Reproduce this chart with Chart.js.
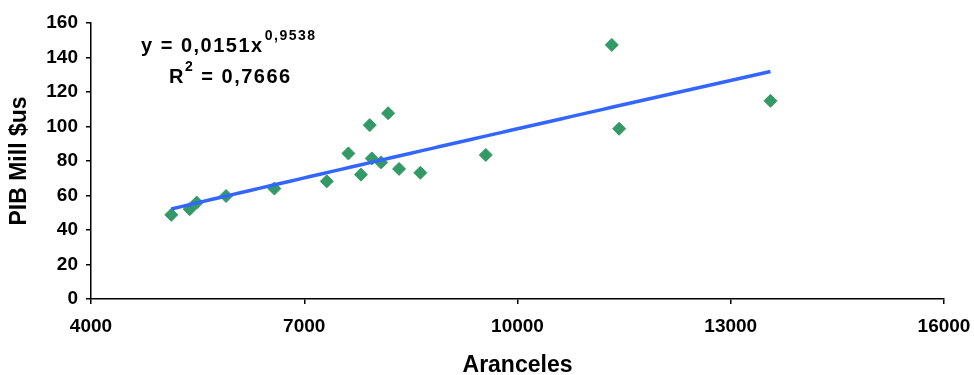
<!DOCTYPE html>
<html>
<head>
<meta charset="utf-8">
<title>PIB vs Aranceles</title>
<script src="https://cdn.jsdelivr.net/npm/chart.js@4/dist/chart.umd.min.js"></script>
<style>
  html, body { margin: 0; padding: 0; background: #fff; }
  #wrap { width: 974px; height: 375px; }
</style>
</head>
<body>
<div id="wrap"><canvas id="pibChart"></canvas></div>
<script>
// Aranceles (x) vs PIB Mill $us (y)
const aranceles = [5130, 5389, 5487, 5900, 6580, 7317, 7621, 7798, 7922, 7950, 8081, 8180, 8334, 8634, 9554, 11327, 11430, 13559];
const pib = [48.8, 52.1, 55.9, 59.7, 64.0, 68.2, 84.4, 72.1, 100.8, 81.5, 79.2, 107.7, 75.4, 73.2, 83.5, 147.3, 98.7, 114.9];

// potential trendline y = a * x^b, R^2
const trendA = 0.0151;
const trendB = 0.9538;
const trendR2 = 0.7666;

const xTicks = [4000, 7000, 10000, 13000, 16000];
const yTicks = [0, 20, 40, 60, 80, 100, 120, 140, 160];

const fontFamily = "'Liberation Sans', Arial, sans-serif";

// trendline sampled across the data range
const xMin = Math.min(...aranceles);
const xMax = Math.max(...aranceles);
const trendPoints = [];
for (let i = 0; i <= 60; i++) {
  const x = xMin + (xMax - xMin) * i / 60;
  trendPoints.push({ x: x, y: trendA * Math.pow(x, trendB) });
}

const fmt = (v) => v.toString().replace(".", ",");

// equation + R^2 text box
const equationLabel = {
  id: "equationLabel",
  afterDraw(chart) {
    const ctx = chart.ctx;
    ctx.save();
    ctx.fillStyle = "#000";
    ctx.textBaseline = "alphabetic";
    ctx.textAlign = "left";
    ctx.letterSpacing = "1.5px";

    ctx.font = "bold 20px " + fontFamily;
    let x = 141;
    const line1 = "y = " + fmt(trendA) + "x";
    ctx.fillText(line1, x, 52);
    x += ctx.measureText(line1).width;
    ctx.font = "bold 14px " + fontFamily;
    ctx.fillText(fmt(trendB), x + 1, 40);

    ctx.font = "bold 20px " + fontFamily;
    x = 169;
    ctx.fillText("R", x, 83);
    x += ctx.measureText("R").width;
    ctx.font = "bold 14px " + fontFamily;
    ctx.fillText("2", x, 71);
    x += ctx.measureText("2").width;
    ctx.font = "bold 20px " + fontFamily;
    ctx.fillText(" = " + fmt(trendR2), x, 83);
    ctx.restore();
  }
};

const ctx = document.getElementById("pibChart").getContext("2d");
new Chart(ctx, {
  type: "scatter",
  data: {
    datasets: [
      {
        label: "PIB",
        data: aranceles.map((x, i) => ({ x: x, y: pib[i] })),
        pointStyle: "rectRot",
        pointRadius: 6.5,
        pointHoverRadius: 6.5,
        backgroundColor: "#339966",
        borderColor: "#339966",
        borderWidth: 1,
        order: 1
      },
      {
        label: "Potencial",
        data: trendPoints,
        showLine: true,
        pointRadius: 0,
        borderColor: "#3366FF",
        borderWidth: 3.5,
        fill: false,
        order: 0
      }
    ]
  },
  options: {
    responsive: true,
    maintainAspectRatio: false,
    animation: false,
    layout: { padding: { left: 0, top: 23, right: 30, bottom: 0 } },
    plugins: {
      legend: { display: false },
      tooltip: { enabled: false }
    },
    scales: {
      x: {
        type: "linear",
        min: 4000,
        max: 16000,
        afterBuildTicks: (scale) => { scale.ticks = xTicks.map((v) => ({ value: v })); },
        afterFit: (scale) => {
          scale.height = 76;
          scale.paddingLeft = 0;
          scale.paddingRight = 0;
        },
        grid: { drawOnChartArea: false, drawTicks: true, tickLength: 5, color: "#000", lineWidth: 1.5 },
        border: { color: "#000", width: 1.5 },
        ticks: {
          color: "#000",
          padding: 11,
          maxRotation: 0,
          callback: (v) => String(v),
          font: { family: fontFamily, size: 19, weight: "bold" }
        },
        title: {
          display: true,
          text: "Aranceles",
          color: "#000",
          padding: { top: 0, bottom: -4 },
          font: { family: fontFamily, size: 23, weight: "bold" }
        }
      },
      y: {
        min: 0,
        max: 160,
        afterBuildTicks: (scale) => { scale.ticks = yTicks.map((v) => ({ value: v })); },
        afterFit: (scale) => { scale.width = 91; },
        grid: { drawOnChartArea: false, drawTicks: true, tickLength: 5, color: "#000", lineWidth: 1.5 },
        border: { color: "#000", width: 1.5 },
        ticks: {
          color: "#000",
          padding: 8,
          font: { family: fontFamily, size: 19, weight: "bold" }
        },
        title: {
          display: true,
          text: "PIB Mill $us",
          color: "#000",
          padding: { top: 6, bottom: 0 },
          font: { family: fontFamily, size: 23, weight: "bold" }
        }
      }
    }
  },
  plugins: [equationLabel]
});
</script>
</body>
</html>
